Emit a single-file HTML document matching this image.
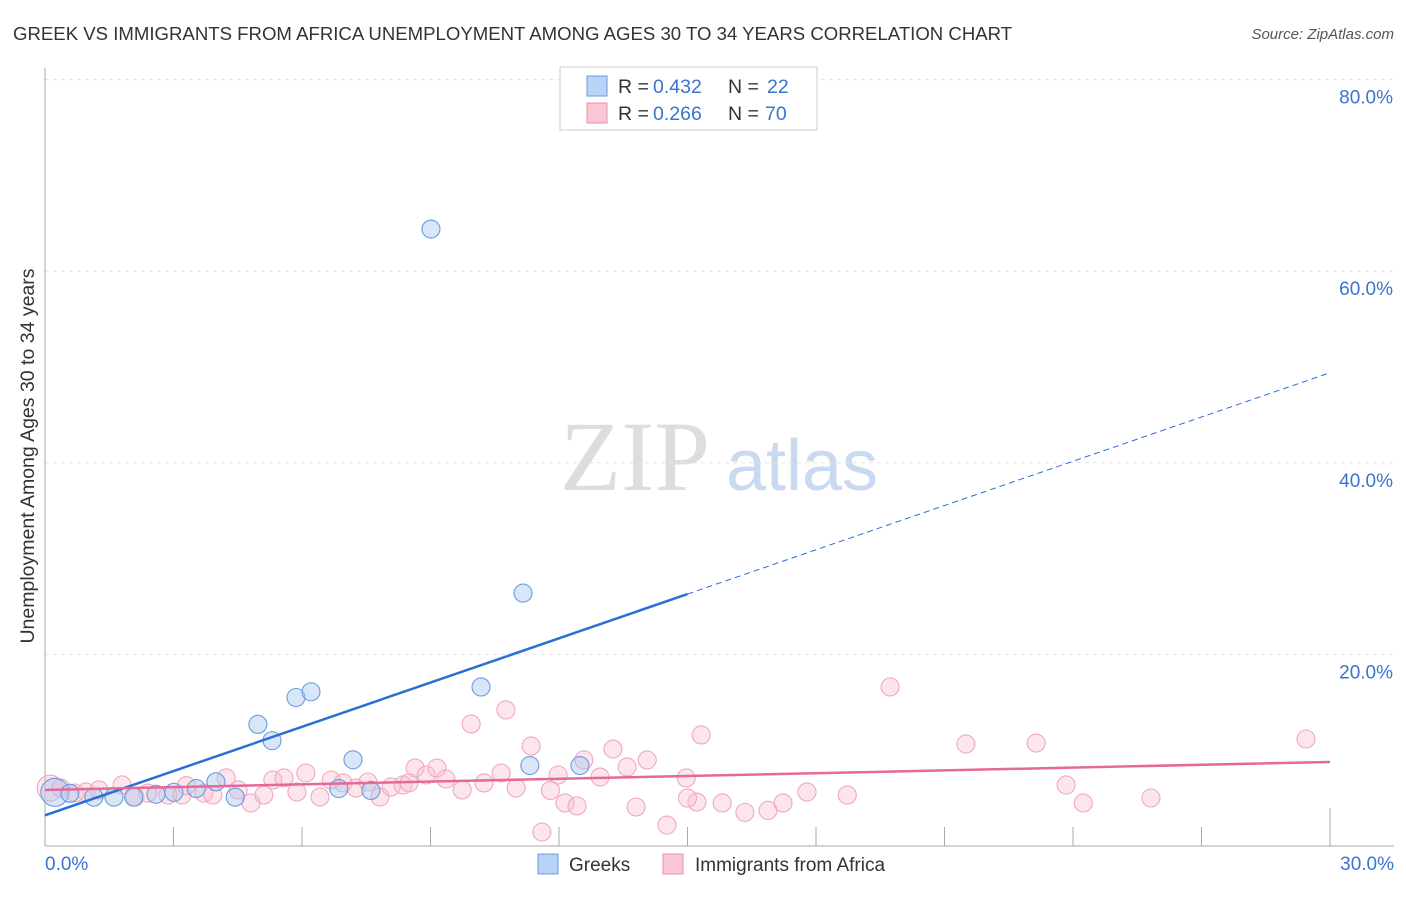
<!DOCTYPE html>
<html><head><meta charset="utf-8"><style>
body{margin:0;background:#fff;font-family:"Liberation Sans",sans-serif;}
svg text{font-family:"Liberation Sans",sans-serif;}
</style></head><body>
<svg id="chart" width="1406" height="892" xmlns="http://www.w3.org/2000/svg">
<text x="13" y="40" font-size="18.6" fill="#333">GREEK VS IMMIGRANTS FROM AFRICA UNEMPLOYMENT AMONG AGES 30 TO 34 YEARS CORRELATION CHART</text>
<text x="1394" y="39" font-size="15" fill="#555" font-style="italic" text-anchor="end">Source: ZipAtlas.com</text>
<g>
<text x="635" y="490" font-size="100" fill="#ddd" text-anchor="middle" style="font-family:'Liberation Serif',serif">ZIP</text>
<text x="802" y="490" font-size="72" fill="#c9d9f0" text-anchor="middle">atlas</text>
</g>
<g id="grid"></g><g id="axes"></g><g id="marks"></g>
<text transform="translate(34,456) rotate(-90)" font-size="19.5" fill="#333" text-anchor="middle">Unemployment Among Ages 30 to 34 years</text>
<g>
<rect x="560" y="67" width="257" height="63" fill="#fff" stroke="#ccc"/>
<rect x="587" y="76" width="20" height="20" fill="#b8d3f5" stroke="#6a9be0"/>
<text x="618" y="93" font-size="19.5" fill="#333">R =</text>
<text x="653" y="93" font-size="19.5" fill="#3b73d1">0.432</text>
<text x="728" y="93" font-size="19.5" fill="#333">N =</text>
<text x="767" y="93" font-size="19.5" fill="#3b73d1">22</text>
<rect x="587" y="103" width="20" height="20" fill="#f9c6d5" stroke="#eb8fae"/>
<text x="618" y="120" font-size="19.5" fill="#333">R =</text>
<text x="653" y="120" font-size="19.5" fill="#3b73d1">0.266</text>
<text x="728" y="120" font-size="19.5" fill="#333">N =</text>
<text x="765" y="120" font-size="19.5" fill="#3b73d1">70</text>
</g>
<g>
<rect x="538" y="854" width="20" height="20" fill="#b8d3f5" stroke="#6a9be0"/>
<text x="569" y="871" font-size="19" fill="#333">Greeks</text>
<rect x="663" y="854" width="20" height="20" fill="#f9c6d5" stroke="#eb8fae"/>
<text x="695" y="871" font-size="19" fill="#333">Immigrants from Africa</text>
</g>
</svg>
<script>
const yTicks=[20,40,60,80];
const yTickLabels=["20.0%","40.0%","60.0%","80.0%"];
const xEndLabels=["0.0%","30.0%"];
const greekX=[0.23,0.58,1.14,1.61,2.07,2.59,3.01,3.53,3.99,4.44,4.97,5.30,5.86,6.21,7.19,6.86,7.61,10.18,11.32,12.49,11.16,9.01];
const greekY=[5.6,5.5,5.1,5.1,5.1,5.4,5.6,6.0,6.7,5.1,12.7,11.0,15.5,16.1,9.0,6.0,5.8,16.6,8.4,8.4,26.4,64.4];
const africaX=[0.12,0.37,0.70,0.96,1.26,1.80,2.10,2.40,2.87,3.20,3.71,3.92,4.23,4.51,4.81,5.11,5.32,5.58,5.88,6.09,6.42,6.68,6.96,7.26,7.54,7.82,8.08,8.36,8.64,8.90,9.15,9.36,9.74,9.95,10.25,10.65,10.76,11.00,11.35,11.60,11.98,12.14,12.42,12.58,12.96,13.26,13.59,13.80,14.06,14.52,14.97,15.22,15.32,15.81,16.34,16.88,17.23,17.79,18.73,19.73,21.50,23.14,23.84,24.24,25.82,29.44,15.00,11.80,8.50,3.30];
const africaY=[6.05,6.05,5.53,5.64,5.85,6.37,5.11,5.53,5.32,5.32,5.53,5.32,7.10,5.85,4.49,5.32,6.89,7.10,5.64,7.62,5.11,6.89,6.58,6.05,6.68,5.11,6.16,6.37,8.14,7.41,8.14,6.99,5.85,12.74,6.58,7.62,14.20,6.05,10.44,1.46,7.41,4.49,4.18,8.98,7.20,10.12,8.25,4.07,8.98,2.19,7.10,4.59,11.59,4.49,3.51,3.72,4.49,5.64,5.32,16.60,10.65,10.75,6.37,4.49,5.01,11.17,5.0,5.8,6.6,6.3];
const greekTrend=[3.2,1.54];
const africaTrend=[5.85,0.0973];
const X0=45,X1=1330,Y0=846,PX=(X1-X0)/30,PY=9.58;
const xs=v=>X0+v*PX, ys=v=>Y0-v*PY;
const NS="http://www.w3.org/2000/svg";
function mk(tag,at,parent){const e=document.createElementNS(NS,tag);for(const k in at)e.setAttribute(k,at[k]);document.getElementById(parent).appendChild(e);return e;}
yTicks.forEach((t,i)=>{
 const g=mk('line',{x1:X0,x2:1394,y1:ys(t),y2:ys(t),stroke:'#e2e2e2','stroke-dasharray':'4,4'},'grid');
 
 
 const l=mk('text',{x:1393,y:ys(t)+24,'font-size':19,fill:'#3b73d1','text-anchor':'end'},'grid');
 l.textContent=yTickLabels[i];
 
 
});
let a=mk('line',{x1:X0,x2:X0,y1:68,y2:Y0,stroke:'#aaa'},'axes');


a=mk('line',{x1:X0,x2:1394,y1:Y0,y2:Y0,stroke:'#aaa'},'axes');


for(let k=1;k<=10;k++){const x=xs(k*3);const t=mk('line',{x1:x,x2:x,y1:k==10?808:827,y2:Y0,stroke:'#aaa'},'axes');
 
 }
[[0,'start',45],[30,'end',1394]].forEach((d,i)=>{const t=mk('text',{x:d[2],y:870,'font-size':19,fill:'#3b73d1','text-anchor':d[1]},'axes');t.textContent=xEndLabels[i];
 
 });
africaX.forEach((x,i)=>{const c=mk('circle',{cx:xs(x),cy:ys(africaY[i]),r:i==0?13:9,fill:'rgba(249,190,208,0.4)',stroke:'#f0a8c0','stroke-width':1.1},'marks');
 
 });
greekX.forEach((x,i)=>{const c=mk('circle',{cx:xs(x),cy:ys(greekY[i]),r:i==0?14:9,fill:'rgba(170,200,240,0.45)',stroke:'#6a9be0','stroke-width':1.1},'marks');
 
 });
let t=mk('line',{x1:xs(0),y1:ys(greekTrend[0]),x2:xs(15),y2:ys(greekTrend[0]+15*greekTrend[1]),stroke:'#2a6fd6','stroke-width':2.5},'marks');


t=mk('line',{x1:xs(15),y1:ys(greekTrend[0]+15*greekTrend[1]),x2:xs(30),y2:ys(greekTrend[0]+30*greekTrend[1]),stroke:'#2a6fd6','stroke-width':1,'stroke-dasharray':'6,4'},'marks');


t=mk('line',{x1:xs(0),y1:ys(africaTrend[0]),x2:xs(30),y2:ys(africaTrend[0]+30*africaTrend[1]),stroke:'#e5689a','stroke-width':2.5},'marks');


</script>
</body></html>
